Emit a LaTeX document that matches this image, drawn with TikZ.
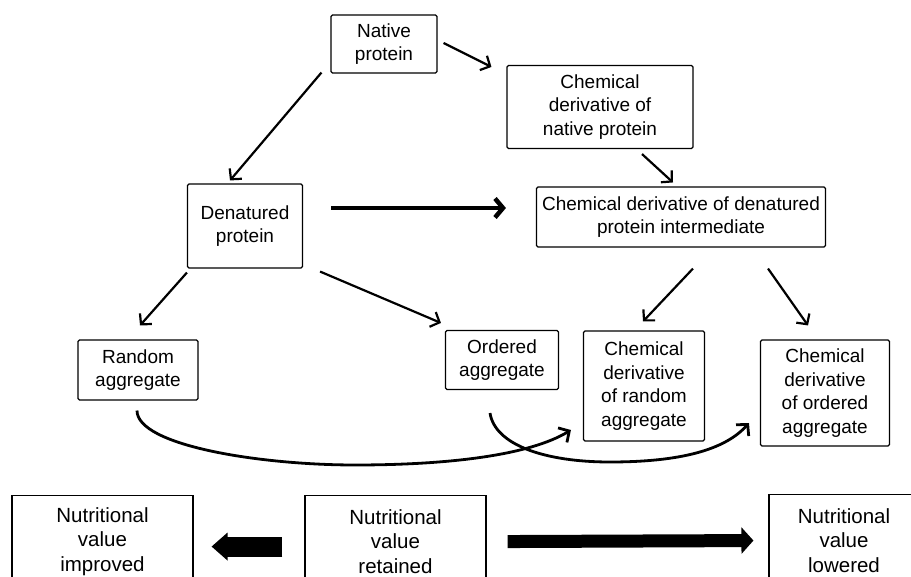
\documentclass[tikz,border=0pt]{standalone}
\usepackage{fontspec}
\setmainfont{Liberation Sans}
\usetikzlibrary{arrows.meta,calc}
\begin{document}
\begin{tikzpicture}[x=1pt,y=-1pt,
  box/.style={draw, line width=1.1pt, rounded corners=1.5pt, align=center, inner sep=0pt,
    font=\fontsize{19}{23.5}\selectfont},
  nbox/.style={draw, line width=1.1pt, align=center, inner sep=0pt,
    font=\fontsize{20.5}{24.5}\selectfont, minimum width=181pt, minimum height=92pt, anchor=north},
  arr/.style={line width=2.2pt, -{Straight Barb[length=7.5pt,width=16pt]}},
  thickarr/.style={line width=4.5pt, -{Straight Barb[length=8pt,width=19pt]}},
  curvearr/.style={line width=2.8pt, -{Straight Barb[length=8pt,width=17pt]}}
]
\useasboundingbox (0,0) rectangle (911,577);
\clip (0,0) rectangle (911,577);

% nodes
\node[box, minimum width=106pt, minimum height=58pt] (nat) at (384,44) {Native\\protein};
\node[box, minimum width=186pt, minimum height=83pt] (cdn) at (600,107) {Chemical\\derivative of\\native protein};
\node[box, minimum width=115pt, minimum height=84pt] (den) at (245,226) {Denatured\\protein};
\node[box, minimum width=289pt, minimum height=60pt] (cdd) at (681,217) {Chemical derivative of denatured\\protein intermediate};
\node[box, minimum width=120pt, minimum height=60pt] (ra) at (138,370) {Random\\aggregate};
\node[box, minimum width=113pt, minimum height=59pt] (oa) at (502,360) {Ordered\\aggregate};
\node[box, minimum width=121pt, minimum height=110pt] (cdr) at (644,386) {Chemical\\derivative\\of random\\aggregate};
\node[box, minimum width=129pt, minimum height=106pt] (cdo) at (825,393) {Chemical\\derivative\\of ordered\\aggregate};

\node[nbox] (nvi) at (102.5,495) {Nutritional\\value\\improved};
\node[nbox] (nvr) at (395.5,495) {Nutritional\\value\\retained};
\node[nbox, minimum width=150pt] (nvl) at (844,494) {Nutritional\\value\\lowered};

% connectors
\draw[arr] ([shift={(6,-1)}]nat.east) -- ([shift={(-15,2)}]cdn.north west);
\draw[arr] ([shift={(-9,-1)}]nat.south west) -- ([shift={(-15,-3)}]den.north);
\draw[arr] ([shift={(42,5)}]cdn.south) -- ([shift={(-8,-4)}]cdd.north);
\draw[thickarr] ([shift={(28,-18)}]den.east) -- ([shift={(-30,-9)}]cdd.west);
\draw[arr] ([shift={(0,4)}]den.south west) -- ([shift={(2,-14)}]ra.north);
\draw[arr] ([shift={(17,3)}]den.south east) -- ([shift={(-4,-7)}]oa.north west);
\draw[arr] ([shift={(12,21)}]cdd.south) -- ([shift={(-1,-9)}]cdr.north);
\draw[arr] ([shift={(87,21)}]cdd.south) -- ([shift={(-17,-14)}]cdo.north);

\draw[curvearr] ([shift={(-1,10)}]ra.south) .. controls +(0,35) and (260,465) .. (355,465)
   .. controls (450,465) and (530,455) .. ([shift={(-12,44)}]cdr.west);
\draw[curvearr] ([shift={(-12,23)}]oa.south) .. controls +(5,32) and (545,462) .. (610,462)
   .. controls (680,462) and (725,450) .. ([shift={(-11,30)}]cdo.west);

% block arrows
\draw[line width=20pt, -{Triangle[length=16pt,width=27pt]}] ([shift={(-22,5)}]nvr.west) -- ([shift={(18,5)}]nvi.east);
\draw[line width=13pt, -{Triangle[length=12pt,width=26pt]}] ([shift={(21,0)}]nvr.east) -- ([shift={(-15,0)}]nvl.west);
\end{tikzpicture}
\end{document}
